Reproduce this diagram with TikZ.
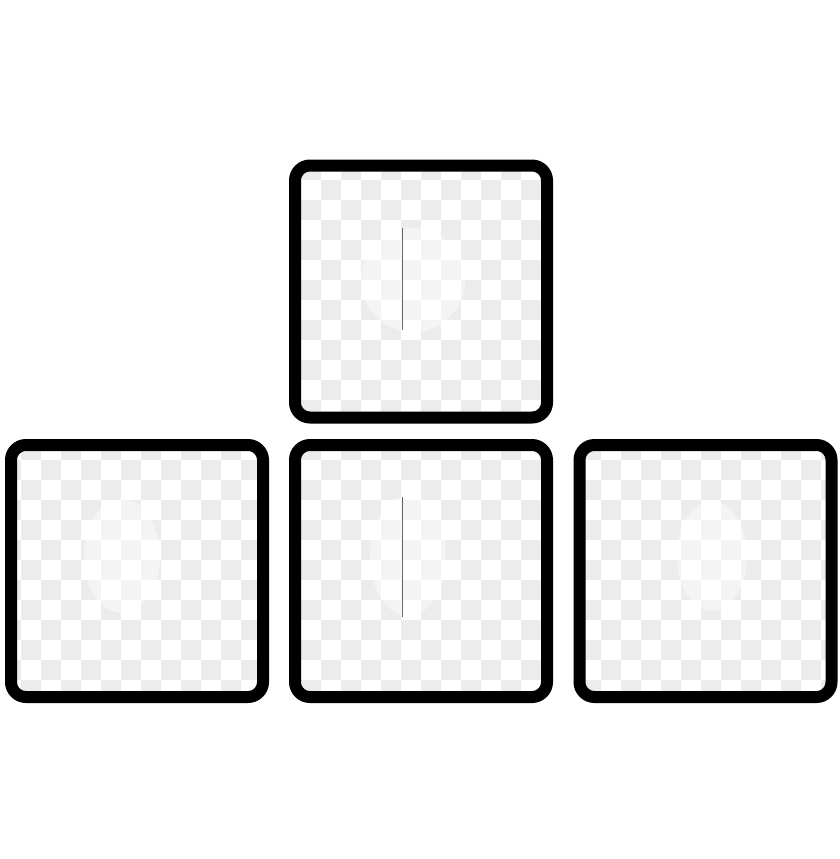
\documentclass[tikz,border=0pt]{standalone}
\begin{document}
\begin{tikzpicture}[x=1pt,y=-1pt,
  keybox/.style={draw=black, line width=12pt, rounded corners=15pt, minimum width=252pt, minimum height=252pt, inner sep=0pt, outer sep=0pt},
  checker/.style={fill=gray!15},
  ghost/.style={fill=white, opacity=0.45},
  seam/.style={draw=black!60, line width=1pt}]
\useasboundingbox (0,0) rectangle (840,859);
\fill[white] (0,0) rectangle (840,859);
% checker backgrounds
\foreach \cx/\cy/\ia/\ib/\ja/\jb in {421/291.5/14/27/7/21, 137/571/0/13/21/35, 421/571/14/27/21/35, 705.5/571/28/41/21/35}{
  \begin{scope}
    \clip[rounded corners=15pt] (\cx-126,\cy-126) rectangle (\cx+126,\cy+126);
    \foreach \i in {\ia,...,\ib}{
      \foreach \j in {\ja,...,\jb}{
        \ifodd\numexpr\i+\j\relax
          \fill[checker] (\i*20+1,\j*20) rectangle ++(20,20);
        \fi
      }
    }
  \end{scope}
}
% faint ghost glyphs
\fill[ghost] (413,280) ellipse (52 and 52);
\fill[ghost] (122,556) ellipse (38 and 57);
\fill[ghost] (408,556) ellipse (38 and 60);
\fill[ghost] (712,556) ellipse (35 and 55);
% thin seams
\draw[seam] (402.7,228) -- (402.7,330);
\draw[seam] (402.7,497) -- (402.7,617);
% keys
\node[keybox] (up) at (421,291.5) {};
\node[keybox] (left) at (137,571) {};
\node[keybox] (down) at (421,571) {};
\node[keybox] (right) at (705.5,571) {};
\end{tikzpicture}
\end{document}
